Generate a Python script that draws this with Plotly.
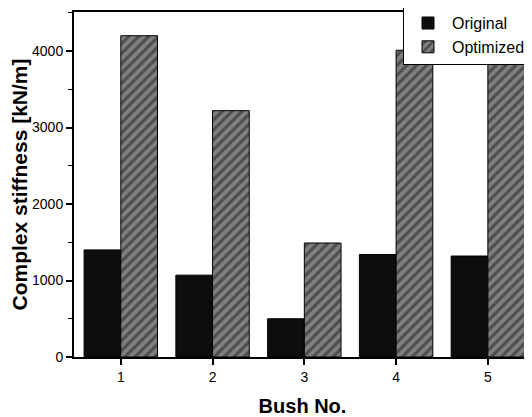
import plotly.graph_objects as go

bush = [1, 2, 3, 4, 5]
original = [1400, 1070, 500, 1340, 1320]
optimized = [4200, 3220, 1490, 4010, 3910]
y_ticks = [0, 1000, 2000, 3000, 4000]

fig = go.Figure()
fig.add_trace(go.Bar(
    x=bush, y=original, name="Original",
    marker=dict(color="#0d0d0d", line=dict(color="#000000", width=1)),
))
fig.add_trace(go.Bar(
    x=bush, y=optimized, name="Optimized",
    marker=dict(color="#6e6e6e", line=dict(color="#000000", width=1),
                pattern=dict(shape="/", fgcolor="#1a1a1a", bgcolor="#808080",
                             size=7, solidity=0.45)),
))

# page body has an 8px margin, so the figure is sized to fill the rest of the window
fig.update_layout(
    width=524, height=409,
    margin=dict(l=66, r=1, t=4, b=60, autoexpand=False),
    paper_bgcolor="white", plot_bgcolor="white",
    barmode="group", bargap=0.2, bargroupgap=0,
    font=dict(family="Liberation Sans, Arial, sans-serif", color="black", size=14),
    showlegend=True,
    legend=dict(x=1, xanchor="right", y=1.02, yanchor="top",
                bgcolor="white", bordercolor="black", borderwidth=1,
                font=dict(size=16), tracegroupgap=0, itemwidth=38),
)
fig.update_xaxes(
    range=[0.49, 5.47], tickvals=bush, ticktext=[str(b) for b in bush],
    showline=True, linecolor="black", linewidth=2, mirror=True,
    ticks="outside", ticklen=6, tickwidth=1.5, tickcolor="black",
    showgrid=False, zeroline=False,
    title=dict(text="<b>Bush No.</b>", font=dict(size=20), standoff=15),
)
fig.update_yaxes(
    range=[0, 4510], tickvals=y_ticks,
    showline=True, linecolor="black", linewidth=2, mirror=True,
    ticks="outside", ticklen=6, tickwidth=1.5, tickcolor="black",
    minor=dict(ticks="outside", ticklen=4, dtick=500, tickcolor="black", tickwidth=1),
    showgrid=False, zeroline=False,
    title=dict(text="<b>Complex stiffness [kN/m]</b>", font=dict(size=21), standoff=3),
)

fig.write_html("out.html")
